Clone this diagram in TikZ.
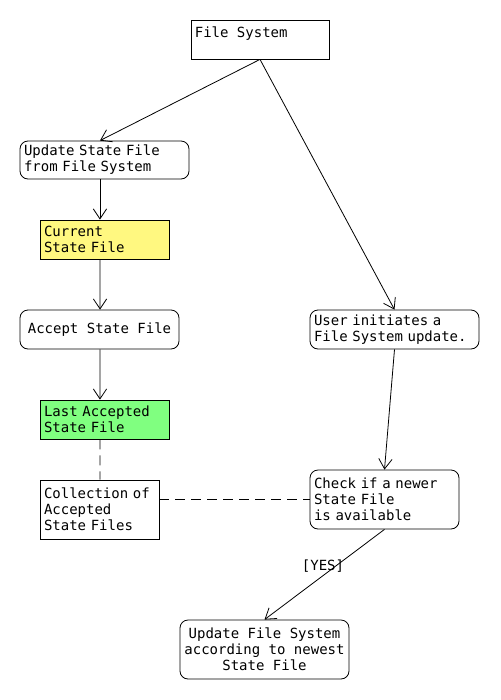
\documentclass[tikz,border=0pt]{standalone}
\usepackage{fontspec}
\setmonofont[WordSpace={1,0,0}]{DejaVu Sans Mono}
\usepackage{tikz}
\usetikzlibrary{arrows.meta,positioning,calc}
\newcommand{\diagfont}{\ttfamily\fontsize{10.5pt}{12pt}\selectfont
  \fontdimen2\font=6.32pt \fontdimen3\font=0pt \fontdimen4\font=0pt
  \spaceskip=6.32pt\relax}

\begin{document}
\begin{tikzpicture}[
  x=0.75pt, y=-0.75pt,
  font=\diagfont,
  box/.style={draw, line width=0.6pt, inner xsep=3pt, inner ysep=0pt, align=left},
  act/.style={box, rounded corners=6pt},
  yelbox/.style={box, fill=yellow!50},
  grnbox/.style={box, fill=green!50},
  flow/.style={line width=0.6pt, -{Straight Barb[length=7.5pt,width=10pt]}},
  link/.style={line width=0.6pt, dash pattern=on 7.5pt off 4.5pt},
  lab/.style={inner sep=1pt}
]
\useasboundingbox (0,0) rectangle (500,700);

\node[box, minimum width=103.5pt, minimum height=29.25pt] (fs) at (260,39.5) {};
\node[anchor=north west, inner sep=0pt] (fstext) at ($(fs.north west)+(4,7)$) {File System};

\node[act, text width=120.75pt, minimum height=28.5pt] (upd) at (104.5,160)
  {Update State File\\from File System};
\node[yelbox, text width=90.75pt, minimum height=29.25pt] (cur) at (104.5,239.5)
  {Current\\State File};
\node[act, align=center, minimum width=119.25pt, minimum height=29.25pt] (acc) at (99.5,329.5)
  {Accept State File};
\node[grnbox, text width=90.75pt, minimum height=29.25pt] (last) at (104.5,419.5)
  {Last Accepted\\State File};
\node[box, text width=83.25pt, minimum height=44.25pt] (coll) at (99.5,509.5)
  {Collection of\\Accepted\\State Files};

\node[act, text width=120.75pt, minimum height=29.25pt] (user) at (394.5,329.5)
  {User initiates a\\File System update.};
\node[act, text width=105.75pt, minimum height=44.25pt] (chk) at (384.5,499.5)
  {Check if a newer\\State File\\is available};
\node[act, align=center, minimum width=126.75pt, minimum height=44.25pt] (updfs) at (264.5,649.5)
  {Update File System\\according to newest\\State File};

\draw[flow] (fs.south) -- ([xshift=-3.4pt]upd.north);
\draw[flow] (fs.south) -- (user.north);
\draw[flow] ([xshift=-3.4pt]upd.south) -- ([xshift=-3.4pt]cur.north);
\draw[flow] ([xshift=-3.4pt]cur.south) -- ([xshift=0.4pt]acc.north);
\draw[flow] ([xshift=0.4pt]acc.south) -- ([xshift=-3.4pt]last.north);
\draw[flow] (user.south) -- (chk.north);
\draw[flow] (chk.south) -- (updfs.north);
\node[lab] (yes) at (323,566) {[YES]};

% links to the collection
\draw[link] ([xshift=-3.4pt]last.south) -- ([xshift=0.4pt]coll.north);
\draw[link] (chk.west -| coll.east) -- (chk.west);
\end{tikzpicture}
\end{document}
